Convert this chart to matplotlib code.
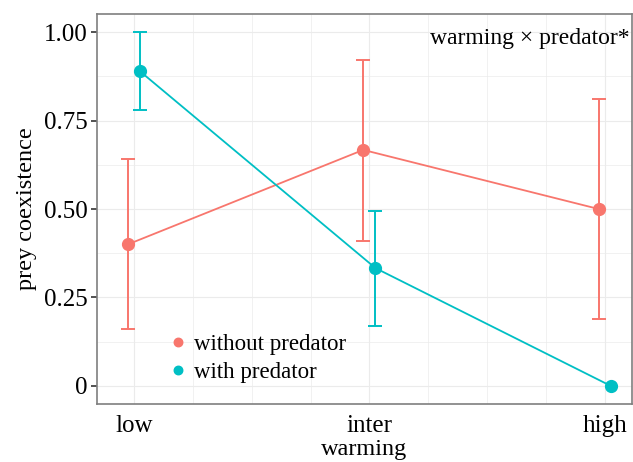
import matplotlib
matplotlib.use("Agg")
import matplotlib.pyplot as plt
import numpy as np

plt.rcParams['font.family'] = ['Liberation Serif', 'DejaVu Serif']

# data
levels = ['low', 'inter', 'high']
without_mean = [0.40, 0.667, 0.50]
without_lo = [0.16, 0.41, 0.19]
without_hi = [0.64, 0.92, 0.81]
with_mean = [0.889, 0.333, 0.0]
with_lo = [0.78, 0.17, 0.0]
with_hi = [1.00, 0.495, 0.0]
yticks = [0, 0.25, 0.5, 0.75, 1.0]
ytick_labels = ['0', '0.25', '0.50', '0.75', '1.00']

red = '#F8766D'
teal = '#00BFC4'

fig = plt.figure(figsize=(6.33, 4.62), dpi=100)
ax = fig.add_axes([0.1532, 0.1255, 0.845, 0.8442])

x = np.arange(1, len(levels) + 1)
dodge = 0.026

def draw(xs, m, lo, hi, col, label):
    m = np.array(m)
    err = np.array([m - np.array(lo), np.array(hi) - m])
    has = (err.sum(axis=0) > 0)
    ax.errorbar(xs[has], m[has], yerr=err[:, has], fmt='none', ecolor=col,
                elinewidth=1.4, capsize=5, capthick=1.4, zorder=3)
    ax.plot(xs, m, color=col, lw=1.3, zorder=3)
    ax.plot(xs, m, 'o', color=col, ms=8.5, zorder=4, label=label)

draw(x - dodge, without_mean, without_lo, without_hi, red, 'without predator')
draw(x + dodge, with_mean, with_lo, with_hi, teal, 'with predator')

ax.set_xlim(0.843, 3.115)
ax.set_ylim(-0.051, 1.051)

# grid (major + minor)
for gx in np.arange(1, 3.01, 0.25):
    ax.axvline(gx, color='#ebebeb', lw=0.8 if gx % 1 == 0 else 0.5, zorder=0)
for gy in np.arange(0, 1.01, 0.125):
    ax.axhline(gy, color='#ebebeb', lw=0.8 if (gy * 4) % 1 == 0 else 0.5, zorder=0)

ax.set_xticks(x)
ax.set_xticklabels(levels, fontsize=18)
ax.tick_params(axis='x', length=0, pad=8)
ax.set_yticks(yticks)
ax.set_yticklabels(ytick_labels, fontsize=18)
ax.tick_params(axis='y', length=4, width=1.2, color='#333333', pad=3)

for s in ax.spines.values():
    s.set_color('#7f7f7f')
    s.set_linewidth(1.2)

ax.set_xlabel('warming', fontsize=17.5, labelpad=1)
ax.set_ylabel('prey coexistence', fontsize=17.5)
ax.yaxis.set_label_coords(-0.113, 0.5)

ax.text(0.995, 0.965, 'warming \u00d7 predator*', transform=ax.transAxes,
        ha='right', va='top', fontsize=17)

leg = ax.legend(loc='upper left', bbox_to_anchor=(0.095, 0.232), frameon=False,
                fontsize=16.5, handlelength=0.8, handletextpad=0.3,
                labelspacing=0.3, markerscale=0.72)

fig.savefig('out.png', dpi=100)
